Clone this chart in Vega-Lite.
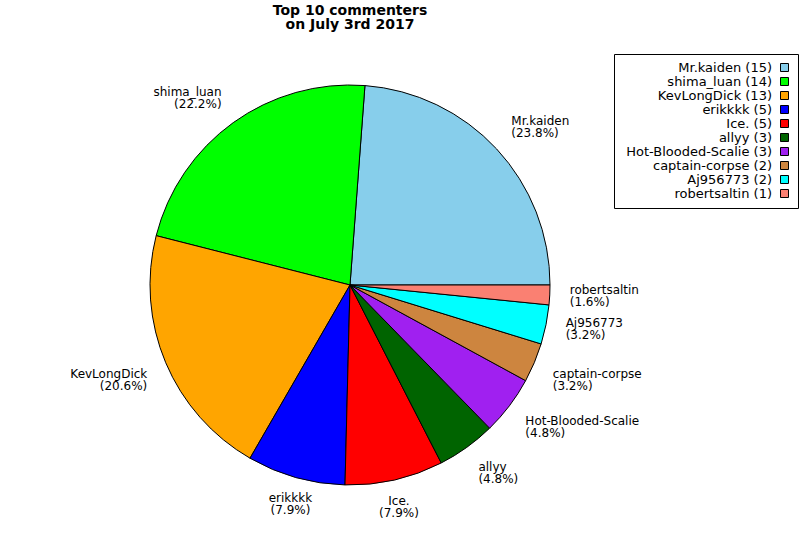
{
  "$schema": "https://vega.github.io/schema/vega-lite/v6.json",
  "width": 700,
  "height": 500,
  "padding": {"top": 4, "left": 0, "right": 0, "bottom": 0},
  "background": "white",
  "title": {
    "text": ["Top 10 commenters", "on July 3rd 2017"],
    "font": "DejaVu Sans",
    "fontSize": 14,
    "fontWeight": "bold",
    "lineHeight": 14,
    "color": "black",
    "anchor": "middle",
    "offset": 3
  },
  "data": {
    "values": [
      {"i": 0, "name": "Mr.kaiden", "count": 15, "entry": "Mr.kaiden (15)", "label": "Mr.kaiden\n(23.8%)"},
      {"i": 1, "name": "shima_luan", "count": 14, "entry": "shima_luan (14)", "label": "shima_luan\n(22.2%)"},
      {"i": 2, "name": "KevLongDick", "count": 13, "entry": "KevLongDick (13)", "label": "KevLongDick\n(20.6%)"},
      {"i": 3, "name": "erikkkk", "count": 5, "entry": "erikkkk (5)", "label": "erikkkk\n(7.9%)"},
      {"i": 4, "name": "Ice.", "count": 5, "entry": "Ice. (5)", "label": "Ice.\n(7.9%)"},
      {"i": 5, "name": "allyy", "count": 3, "entry": "allyy (3)", "label": "allyy\n(4.8%)"},
      {"i": 6, "name": "Hot-Blooded-Scalie", "count": 3, "entry": "Hot-Blooded-Scalie (3)", "label": "Hot-Blooded-Scalie\n(4.8%)"},
      {"i": 7, "name": "captain-corpse", "count": 2, "entry": "captain-corpse (2)", "label": "captain-corpse\n(3.2%)"},
      {"i": 8, "name": "Aj956773", "count": 2, "entry": "Aj956773 (2)", "label": "Aj956773\n(3.2%)"},
      {"i": 9, "name": "robertsaltin", "count": 1, "entry": "robertsaltin (1)", "label": "robertsaltin\n(1.6%)"}
    ]
  },
  "encoding": {
    "theta": {"field": "count", "type": "quantitative", "stack": true, "scale": {"range": [1.5708, -4.7124]}},
    "order": {"field": "i", "type": "quantitative"}
  },
  "layer": [
    {
      "mark": {"type": "arc", "outerRadius": 200, "stroke": "black", "strokeWidth": 1},
      "encoding": {
        "color": {
          "field": "entry",
          "type": "nominal",
          "scale": {
            "domain": ["Mr.kaiden (15)", "shima_luan (14)", "KevLongDick (13)", "erikkkk (5)", "Ice. (5)", "allyy (3)", "Hot-Blooded-Scalie (3)", "captain-corpse (2)", "Aj956773 (2)", "robertsaltin (1)"],
            "range": ["#87ceeb", "#00ff00", "#ffa500", "#0000ff", "#ff0000", "#006400", "#a020f0", "#cd853f", "#00ffff", "#fa8072"]
          },
          "legend": {
            "title": null,
            "orient": "none",
            "legendX": 614,
            "legendY": 19,
            "strokeColor": "black",
            "fillColor": "white",
            "padding": 7,
            "symbolType": "square",
            "symbolSize": 64,
            "symbolStrokeColor": "black",
            "symbolStrokeWidth": 1,
            "symbolOffset": 157,
            "labelAlign": "right",
            "labelOffset": -19,
            "labelFont": "DejaVu Sans",
            "labelFontSize": 13,
            "labelColor": "black",
            "labelLimit": 300,
            "rowPadding": 0
          }
        }
      }
    },
    {
      "mark": {"type": "text", "align": "left", "baseline": "bottom", "dy": -7, "lineBreak": "\n", "lineHeight": 12, "font": "DejaVu Sans", "fontSize": 12, "color": "black"},
      "encoding": {
        "radius": {"value": 220},
        "text": {"condition": {"test": "datum.name === 'Mr.kaiden'", "field": "label"}, "value": ""}
      }
    },
    {
      "mark": {"type": "text", "align": "right", "baseline": "bottom", "dy": -7, "lineBreak": "\n", "lineHeight": 12, "font": "DejaVu Sans", "fontSize": 12, "color": "black"},
      "encoding": {
        "radius": {"value": 220},
        "text": {"condition": {"test": "datum.name === 'shima_luan'", "field": "label"}, "value": ""}
      }
    },
    {
      "mark": {"type": "text", "align": "right", "baseline": "top", "dy": -1, "lineBreak": "\n", "lineHeight": 12, "font": "DejaVu Sans", "fontSize": 12, "color": "black"},
      "encoding": {
        "radius": {"value": 220},
        "text": {"condition": {"test": "datum.name === 'KevLongDick'", "field": "label"}, "value": ""}
      }
    },
    {
      "mark": {"type": "text", "align": "center", "baseline": "top", "dy": -3.5, "lineBreak": "\n", "lineHeight": 12, "font": "DejaVu Sans", "fontSize": 12, "color": "black"},
      "encoding": {
        "radius": {"value": 220},
        "text": {"condition": {"test": "datum.name === 'erikkkk' || datum.name === 'Ice.'", "field": "label"}, "value": ""}
      }
    },
    {
      "mark": {"type": "text", "align": "left", "baseline": "top", "dy": -1.5, "lineBreak": "\n", "lineHeight": 12, "font": "DejaVu Sans", "fontSize": 12, "color": "black"},
      "encoding": {
        "radius": {"value": 220},
        "text": {"condition": {"test": "datum.name === 'allyy' || datum.name === 'Hot-Blooded-Scalie' || datum.name === 'captain-corpse'", "field": "label"}, "value": ""}
      }
    },
    {
      "mark": {"type": "text", "align": "left", "baseline": "middle", "dy": -6, "lineBreak": "\n", "lineHeight": 12, "font": "DejaVu Sans", "fontSize": 12, "color": "black"},
      "encoding": {
        "radius": {"value": 220},
        "text": {"condition": {"test": "datum.name === 'Aj956773' || datum.name === 'robertsaltin'", "field": "label"}, "value": ""}
      }
    }
  ],
  "config": {
    "view": {"stroke": null},
    "font": "DejaVu Sans"
  }
}
